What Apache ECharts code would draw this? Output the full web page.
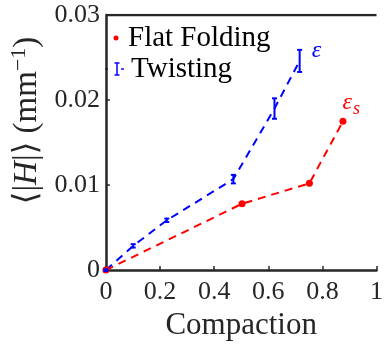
<!DOCTYPE html>
<html><head><meta charset="utf-8">
<script src="https://cdn.jsdelivr.net/npm/echarts@6/dist/echarts.min.js"></script>
<style>html,body{margin:0;padding:0;background:#fff}#c{width:386px;height:346px}</style>
</head><body><div id="c"></div>
<script>
const flatX = [0, 0.503, 0.752, 0.876];
const flatY = [0, 0.0078, 0.0102, 0.0175];
const twistX = [0, 0.101, 0.225, 0.471, 0.623, 0.716];
const twistY = [0, 0.00285, 0.00586, 0.0107, 0.0190, 0.0246];
const twistErr = [0.0001, 0.0002, 0.0002, 0.0005, 0.0012, 0.0013];
const seriesNames = ['Flat Folding', 'Twisting'];
const xTicks = [0, 0.2, 0.4, 0.6, 0.8, 1];
const yTicks = [0, 0.01, 0.02, 0.03];

const FONT = '"Liberation Serif", "DejaVu Serif", serif';
const chart = echarts.init(document.getElementById('c'));
const flatData = flatX.map((x, i) => {
  const d = {value: [x, flatY[i]]};
  if (i === flatX.length - 1) d.label = {show: true, position: [3, -30], formatter: '{e|ε}{s|s}',
    rich: {e: {fontFamily: FONT, fontStyle: 'italic', fontSize: 24, color: '#ff0000'},
           s: {fontFamily: FONT, fontStyle: 'italic', fontSize: 18, color: '#ff0000', padding: [12, 0, 0, 1]}}};
  return d;
});
const twistData = twistX.map((x, i) => {
  const d = {value: [x, twistY[i]]};
  if (i === twistX.length - 1) d.label = {show: true, position: [12, -22], formatter: 'ε',
    fontFamily: FONT, fontStyle: 'italic', fontSize: 24, color: '#0000ff'};
  return d;
});
const errData = twistX.map((x, i) => [x, twistY[i] - twistErr[i], twistY[i] + twistErr[i]]);
const legTxt = (t, x, y) => ({type: 'text', x: x, y: y,
  style: {text: t, font: '29px ' + FONT, fontFamily: FONT, fontSize: 29, fill: '#000', verticalAlign: 'middle'}});

chart.setOption({
  animation: false,
  textStyle: {fontFamily: FONT},
  grid: {left: 103, right: 1, top: 15, bottom: 75, show: false},
  xAxis: {
    type: 'value', min: 0, max: 1, interval: 0.2,
    axisLine: {show: true, lineStyle: {color: '#262626', width: 2.5}},
    axisTick: {show: true, inside: true, length: 4, lineStyle: {color: '#262626', width: 1.5}},
    splitLine: {show: false},
    axisLabel: {fontFamily: FONT, fontSize: 26, color: '#262626', margin: 9,
      formatter: v => String(+v.toFixed(1))},
    name: 'Compaction', nameLocation: 'middle', nameGap: 38,
    nameTextStyle: {fontFamily: FONT, fontSize: 31, color: '#262626'}
  },
  yAxis: {
    type: 'value', min: 0, max: 0.03, interval: 0.01,
    axisLine: {show: true, lineStyle: {color: '#262626', width: 2.5}},
    axisTick: {show: true, inside: true, length: 4, lineStyle: {color: '#262626', width: 1.5}},
    splitLine: {show: false},
    axisLabel: {fontFamily: FONT, fontSize: 26, color: '#262626', margin: 6,
      formatter: v => String(+v.toFixed(2))},
    name: '{a|⟨|}{h|H}{a||⟩ (mm}{sup|−1}{a|)}', nameLocation: 'middle', nameGap: 56, nameRotate: 90,
    nameTextStyle: {padding: [0, 0, 0, 44], rich: {
      a: {fontFamily: FONT, fontSize: 33, color: '#262626'},
      h: {fontFamily: FONT, fontSize: 33, fontStyle: 'italic', color: '#262626'},
      sup: {fontFamily: FONT, fontSize: 22, color: '#262626', padding: [0, 0, 16, 0]}
    }}
  },
  legend: {show: false},
  graphic: [
    {type: 'circle', shape: {cx: 116, cy: 38, r: 2.5}, style: {fill: '#ff0000'}},
    legTxt(seriesNames[0], 128, 38),
    {type: 'rect', shape: {x: 105, y: 68.3, width: 3, height: 1.4}, style: {fill: '#0000ff'}},
    {type: 'rect', shape: {x: 121, y: 68.3, width: 3, height: 1.4}, style: {fill: '#0000ff'}},
    {type: 'polyline', shape: {points: [[114.5, 63], [119.5, 63]]}, style: {stroke: '#0000ff', lineWidth: 1.5}},
    {type: 'polyline', shape: {points: [[114.5, 75], [119.5, 75]]}, style: {stroke: '#0000ff', lineWidth: 1.5}},
    {type: 'polyline', shape: {points: [[117, 63], [117, 75]]}, style: {stroke: '#0000ff', lineWidth: 1.5}},
    legTxt(seriesNames[1], 131, 69)
  ],
  series: [
    {name: seriesNames[0], type: 'line', data: flatData, symbol: 'circle', symbolSize: 7,
      itemStyle: {color: '#ff0000'}, lineStyle: {color: '#ff0000', width: 2, type: [8, 6]}, z: 3},
    {name: seriesNames[1], type: 'line', data: twistData, symbol: 'circle', symbolSize: 0.01, showSymbol: true,
      itemStyle: {color: '#0000ff'}, lineStyle: {color: '#0000ff', width: 2, type: [8, 6]}, z: 2},
    {name: seriesNames[1], type: 'custom', data: errData, z: 4,
      renderItem: (params, api) => {
        const x = api.value(0);
        const lo = api.coord([x, api.value(1)]);
        const hi = api.coord([x, api.value(2)]);
        const w = 2.5;
        const st = {stroke: '#0000ff', lineWidth: 2};
        return {type: 'group', children: [
          {type: 'line', shape: {x1: lo[0], y1: lo[1], x2: hi[0], y2: hi[1]}, style: st},
          {type: 'line', shape: {x1: lo[0] - w, y1: lo[1], x2: lo[0] + w, y2: lo[1]}, style: st},
          {type: 'line', shape: {x1: hi[0] - w, y1: hi[1], x2: hi[0] + w, y2: hi[1]}, style: st}
        ]};
      }},
    {type: 'line', data: [[0, 0.03], [1, 0.03]], symbol: 'none', silent: true,
      lineStyle: {color: '#262626', width: 2.5}, z: 1}
  ]
});
</script></body></html>
